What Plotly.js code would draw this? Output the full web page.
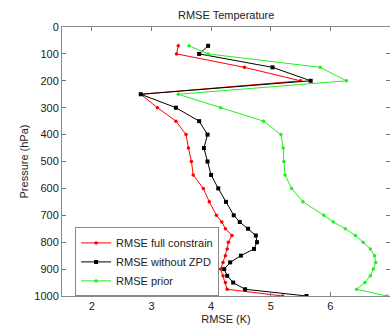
<!DOCTYPE html>
<html>
<head>
<meta charset="utf-8">
<script src="https://cdn.plot.ly/plotly-3.0.1.min.js"></script>
<style>html,body{margin:0;padding:0;background:#fff;}#chart{width:390px;height:326px;}</style>
</head>
<body>
<div id="chart"></div>
<script>
const pressure = [70,100,150,200,250,300,350,400,450,500,550,600,650,700,725,750,775,800,825,850,875,900,925,950,975,1000];
const rmseFull = [3.45,3.42,4.56,5.50,2.82,3.10,3.41,3.58,3.62,3.67,3.70,3.87,3.97,4.09,4.18,4.24,4.35,4.29,4.27,4.24,4.20,4.16,4.20,4.24,4.27,5.20];
const rmseNoZPD = [3.95,3.80,5.03,5.67,2.82,3.41,3.80,3.94,3.88,3.94,4.00,4.12,4.25,4.38,4.48,4.62,4.75,4.77,4.72,4.50,4.32,4.22,4.27,4.37,4.57,5.60];
const rmsePrior = [3.63,3.95,5.83,6.27,3.45,4.16,4.88,5.17,5.21,5.22,5.24,5.35,5.54,5.89,6.05,6.25,6.42,6.55,6.67,6.74,6.76,6.72,6.67,6.58,6.44,6.95];
const seriesNames = ["RMSE full constrain","RMSE without ZPD","RMSE prior"];
const xTicks = [2,3,4,5,6,7];
const yTicks = [0,100,200,300,400,500,600,700,800,900,1000];

const font = {family: "Liberation Sans, Arial, sans-serif", size: 11, color: "#222"};
const traces = [
  {x: rmseFull, y: pressure, name: seriesNames[0], mode: "lines+markers",
   line: {color: "#ff0000", width: 1}, marker: {color: "#ff0000", size: 3.5, symbol: "circle"}},
  {x: rmseNoZPD, y: pressure, name: seriesNames[1], mode: "lines+markers",
   line: {color: "#000000", width: 1}, marker: {color: "#000000", size: 4, symbol: "square"}},
  {x: rmsePrior, y: pressure, name: seriesNames[2], mode: "lines+markers",
   line: {color: "#22ee22", width: 1}, marker: {color: "#22ee22", size: 3.5, symbol: "circle"}}
];
const layout = {
  width: 390, height: 326,
  margin: {l: 62, r: 0, t: 27, b: 30, pad: 0},
  paper_bgcolor: "#fff", plot_bgcolor: "#fff",
  font: font,
  title: {text: "RMSE Temperature", font: {family: font.family, size: 11, color: "#222"}, x: 0.58, xanchor: "center", y: 0.955, yanchor: "middle"},
  showlegend: true,
  legend: {x: 0.04, y: 0.255, xanchor: "left", yanchor: "top", bgcolor: "#fff", bordercolor: "#888", borderwidth: 1,
           font: {family: font.family, size: 11, color: "#222"}, itemwidth: 30, tracegroupgap: 0},
  xaxis: {range: [1.5, 7], tickvals: xTicks, ticktext: xTicks.map(String), ticks: "inside", ticklen: 4,
          tickcolor: "#777", showline: true, linecolor: "#888", linewidth: 1, mirror: "ticks",
          showgrid: false, zeroline: false, automargin: false,
          title: {text: "RMSE (K)", font: {family: font.family, size: 11, color: "#222"}, standoff: 4}},
  yaxis: {range: [1000, 0], tickvals: yTicks, ticktext: yTicks.map(String), ticks: "inside", ticklen: 4,
          tickcolor: "#777", showline: true, linecolor: "#888", linewidth: 1, mirror: "ticks",
          showgrid: false, zeroline: false, automargin: false,
          title: {text: "Pressure (hPa)", font: {family: font.family, size: 11, color: "#222"}, standoff: 3}}
};
Plotly.newPlot("chart", traces, layout, {displayModeBar: false, staticPlot: true});
</script>
</body>
</html>
